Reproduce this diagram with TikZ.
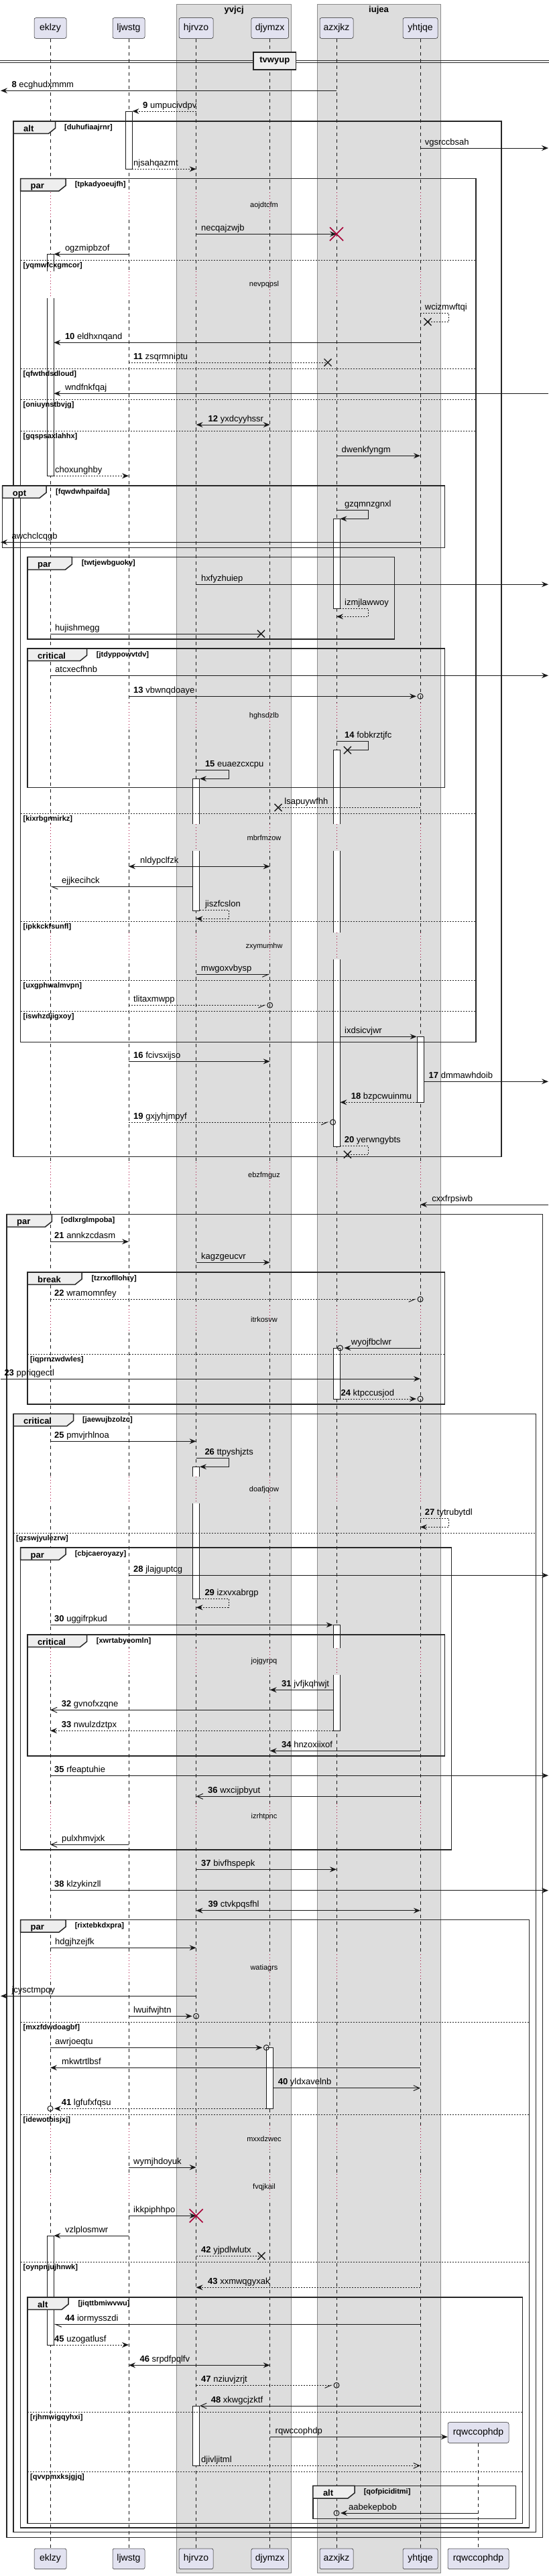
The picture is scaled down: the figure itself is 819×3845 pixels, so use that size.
\documentclass[tikz,border=0pt]{standalone}
\usepackage{fontspec}
\setmainfont{Liberation Sans}
\usetikzlibrary{arrows.meta,calc}
\definecolor{partfill}{HTML}{E2E2F0}
\definecolor{partline}{HTML}{181818}
\definecolor{lanefill}{HTML}{DDDDDD}
\definecolor{laneline}{HTML}{8C8C8C}
\definecolor{tabfill}{HTML}{EEEEEE}
\definecolor{delayred}{HTML}{A80036}
\newcommand\msgf{\fontsize{13}{15}\selectfont}
\newcommand\partf{\fontsize{14}{16}\selectfont}
\newcommand\condf{\fontsize{11}{13}\selectfont\bfseries}
\newcommand\tabf{\fontsize{13}{15}\selectfont\bfseries}
\newcommand\dlyf{\fontsize{11}{13}\selectfont}
\newcount\nodecnt
\tikzset{
  nm/.code={\global\advance\nodecnt by 1\relax\edef\tmpnm{\noexpand\pgfkeysalso{name=lb\the\nodecnt}}\tmpnm},
  part/.style={draw=partline, fill=partfill, rounded corners=2.5pt, line width=0.5pt, minimum height=30.6pt, inner sep=0pt, font=\partf},
  lane/.style={draw=laneline, fill=lanefill, line width=0.6pt},
  lanet/.style={font=\tabf, inner sep=0pt},
  life/.style={draw=partline, line width=0.5pt, dash pattern=on 5pt off 5pt},
  actbox/.style={draw=black!90, fill=white, line width=0.8pt, minimum width=10pt, inner sep=0pt},
  msg/.style={draw=black!90, line width=1pt},
  ret/.style={dash pattern=on 2pt off 2pt},
  fil/.style={-{Stealth[length=10pt,width=8pt,inset=3.5pt]}},
  opn/.style={-{Straight Barb[length=9pt,width=8pt]}},
  hlfL/.style={-{Straight Barb[length=9pt,width=8pt,left]}},
  hlfR/.style={-{Straight Barb[length=9pt,width=8pt,right]}},
  bi/.style={{Stealth[length=10pt,width=8pt,inset=3.5pt]}-{Stealth[length=10pt,width=8pt,inset=3.5pt]}},
  lbl/.style={nm, anchor=base west, inner sep=0pt, font=\msgf},
  frm/.style={draw=black!85, line width=1.5pt},
  tabst/.style={draw=black!85, line width=1.5pt, fill=tabfill},
  elsel/.style={draw=black!85, line width=0.8pt, dash pattern=on 2pt off 2pt},
  cond/.style={nm, anchor=base west, inner sep=0pt, font=\condf},
  tabl/.style={nm, anchor=base west, inner sep=0pt, font=\tabf},
  dly/.style={draw=delayred, line width=0.8pt, dash pattern=on 1pt off 3.5pt},
  dlyt/.style={nm, font=\dlyf, inner sep=0pt},
  xblk/.style={draw=black!90, line width=1.4pt},
  xred/.style={draw=delayred, line width=1.6pt},
  circ/.style={draw=black!90, line width=1pt},
  divbox/.style={draw=black!85, fill=tabfill, line width=1.5pt, minimum width=63.6pt, minimum height=26pt, inner sep=0pt, font=\tabf},
}
\newcommand\smsg[6]{%
  \draw[msg,#1] (#2|-0,#4) -- (#3|-0,#4);
  \node[lbl] at (#5,#4-5) {#6};}
\newcommand\smsgo[7]{%
  \draw[msg,#1] (#2|-0,#4) -- ($(#3|-0,#4)+(#7*6,0)$);
  \draw[circ] (#3|-0,#4) circle (4pt);
  \node[lbl] at (#5,#4-5) {#6};}
\newcommand\sself[8]{%
  \draw[msg,#1] (#2|-0,#4) -- (#3,#4) -- (#3,#5) -- (#6|-0,#5);
  \node[lbl] at (#7,#4-5) {#8};}
\newcommand\xblk[1]{\draw[xblk] ($(#1)+(-5.5,-5.5)$) -- ($(#1)+(5.5,5.5)$) ($(#1)+(-5.5,5.5)$) -- ($(#1)+(5.5,-5.5)$);}
\newcommand\xred[1]{\draw[xred] ($(#1)+(-10,-10)$) -- ($(#1)+(10,10)$) ($(#1)+(-10,10)$) -- ($(#1)+(10,-10)$);}
\newcommand\sframe[9]{%
  \draw[frm] (#1,#2) rectangle (#3,#4);
  \draw[tabst] (#1,#2) -- (#5,#2) -- (#5,#6-8) -- (#5-10,#6) -- (#1,#6) -- cycle;
  \node[tabl] at (#1+15,#2+15) {#7};
  \node[cond] at (#8,#2+12) {#9};}
\newcommand\selse[4]{%
  \draw[elsel] (#1,#3) -- (#2,#3);
  \node[cond] at (#1+4,#3+11.5) {#4};}
\newcommand\sdelay[2]{%
  \foreach \lnm/\lcl in {eklzy/white,ljwstg/white,hjrvzo/lanefill,djymzx/lanefill,azxjkz/lanefill,yhtjqe/lanefill}{%
    \fill[\lcl] ($(\lnm|-0,#1-20)+(-6.5,0)$) rectangle ($(\lnm|-0,#1+20)+(6.5,0)$);
    \draw[dly] (\lnm|-0,#1-20) -- (\lnm|-0,#1+20);}
  \node[dlyt] at (394,#1) {#2};}
\begin{document}
\begin{tikzpicture}[x=1pt,y=-1pt]
\useasboundingbox (0,0) rectangle (819,3845);
\fill[white] (0,0) rectangle (819,3845);
% lanes
\draw[lane] (263.7,6) rectangle (434.7,3840.7);
\draw[lane] (473,6) rectangle (657,3840.7);
\node[lanet] (tyvjcj) at (349.2,15.5) {yvjcj};
\node[lanet] (tiujea) at (565,15.5) {iujea};
% participants
\node[part,minimum width=48pt] (eklzy) at (75,42) {eklzy};
\node[part,minimum width=48pt] (ljwstg) at (192,42) {ljwstg};
\node[part,minimum width=51pt] (hjrvzo) at (292.6,42) {hjrvzo};
\node[part,minimum width=55.5pt] (djymzx) at (402.7,42) {djymzx};
\node[part,minimum width=50pt] (azxjkz) at (502,42) {azxjkz};
\node[part,minimum width=52pt] (yhtjqe) at (627,42) {yhtjqe};
\node[part,minimum width=91pt] (rqwccophdp) at (713.5,3631) {rqwccophdp};
\node[part,minimum width=48pt] (eklzyB) at (75,3819.3) {eklzy};
\node[part,minimum width=48pt] (ljwstgB) at (192,3819.3) {ljwstg};
\node[part,minimum width=51pt] (hjrvzoB) at (292.6,3819.3) {hjrvzo};
\node[part,minimum width=55.5pt] (djymzxB) at (402.7,3819.3) {djymzx};
\node[part,minimum width=50pt] (azxjkzB) at (502,3819.3) {azxjkz};
\node[part,minimum width=52pt] (yhtjqeB) at (627,3819.3) {yhtjqe};
\node[part,minimum width=91pt] (rqwccophdpB) at (713.5,3819.3) {rqwccophdp};
% lifelines
\draw[life] (eklzy) -- (eklzyB);
\draw[life] (ljwstg) -- (ljwstgB);
\draw[life] (hjrvzo) -- (hjrvzoB);
\draw[life] (djymzx) -- (djymzxB);
\draw[life] (azxjkz) -- (azxjkzB);
\draw[life] (yhtjqe) -- (yhtjqeB);
\draw[life] (rqwccophdp) -- (rqwccophdpB);
% edges and lost-message points
\coordinate (lft) at (1,0);
\coordinate (rgt) at (818,0);
\coordinate (xa) at (638,480.3);
\coordinate (xb) at (489,541);
\coordinate (xc) at (389.5,946);
\coordinate (xd) at (518.4,1119.7);
\coordinate (xe) at (415,1205.3);
\coordinate (xf) at (518.4,1723.3);
\coordinate (xg) at (390,3367.3);
% activations
\node[actbox,minimum height=86.3pt] (a1) at (ljwstg|-0,209.15) {};
\node[actbox,minimum height=331pt] (a2) at (eklzy|-0,544.8) {};
\node[actbox,minimum height=133.7pt] (a3) at (azxjkz|-0,841.15) {};
\node[actbox,minimum height=591.3pt] (a4) at (azxjkz|-0,1415.35) {};
\node[actbox,minimum height=197pt] (a5) at (hjrvzo|-0,1260.8) {};
\node[actbox,minimum height=98pt] (a6) at (yhtjqe|-0,1596.3) {};
\node[actbox,minimum height=75.6pt] (a7) at (azxjkz|-0,2050.5) {};
\node[actbox,minimum height=197.4pt] (a8) at (hjrvzo|-0,2288) {};
\node[actbox,minimum height=158pt] (a9) at (azxjkz|-0,2504.3) {};
\node[actbox,minimum height=91pt] (a10) at (djymzx|-0,3101.8) {};
\node[actbox,minimum height=163pt] (a11) at (eklzy|-0,3418.5) {};
\node[actbox,minimum height=89.3pt] (a12) at (hjrvzo|-0,3635.65) {};
% delays
\sdelay{307}{aojdtcfm}
\sdelay{425}{nevpqpsl}
\sdelay{1069}{hghsdzlb}
\sdelay{1250.3}{mbrfmzow}
\sdelay{1412.3}{zxymumhw}
\sdelay{1755}{ebzfmguz}
\sdelay{1969.3}{itrkosvw}
\sdelay{2224}{doafjqow}
\sdelay{2480}{jojgyrpq}
\sdelay{2711.7}{izrhtpnc}
\sdelay{2937.3}{watiagrs}
\sdelay{3192.3}{mxxdzwec}
\sdelay{3265}{fvqjkail}
% frames
\sframe{20}{181}{748}{1726.3}{82.6}{199.3}{alt}{96}{[duhufiaajrnr]}
\sframe{30.5}{266.7}{710}{1555.3}{98}{285}{par}{111.6}{[tpkadyoeujfh]}
\selse{30.5}{710}{388.3}{[yqmwfcxgmcor]}
\selse{30.5}{710}{550.3}{[qfwthdsdloud]}
\selse{30.5}{710}{596.3}{[oniuynstbvjg]}
\selse{30.5}{710}{643}{[gqspsaxlahhx]}
\selse{30.5}{710}{1214.3}{[kixrbgrmirkz]}
\selse{30.5}{710}{1375.3}{[ipkkckfsunfl]}
\selse{30.5}{710}{1463.3}{[uxgphwalmvpn]}
\selse{30.5}{710}{1509.3}{[iswhzdjigxoy]}
\sframe{3.7}{725}{663.7}{817.3}{69}{743.3}{opt}{83}{[fqwdwhpaifda]}
\sframe{41}{831.3}{588.4}{954}{107.4}{850.3}{par}{121.6}{[twtjewbguoky]}
\sframe{41}{968}{663.7}{1175.3}{129.5}{986.3}{critical}{143.7}{[jtdyppowvtdv]}
\sframe{10}{1812.7}{809.5}{3787.3}{77.4}{1831.3}{par}{91}{[odlxrglmpoba]}
\sframe{41}{1899}{663.7}{2096}{122}{1917.3}{break}{136.3}{[tzrxofllohry]}
\selse{41}{663.7}{2021}{[iqprnzwdwles]}
\sframe{20}{2110.3}{799.5}{3779.7}{109.5}{2128.7}{critical}{123}{[jaewujbzolzc]}
\selse{20}{799.5}{2288.3}{[gzswjyulezrw]}
\sframe{30.5}{2310}{673.7}{2761}{98}{2328.3}{par}{111.6}{[cbjcaeroyazy]}
\sframe{41}{2440}{663.7}{2621}{129.5}{2458.3}{critical}{143.7}{[xwrtabyeomln]}
\sframe{30.5}{2865.7}{789.5}{3773}{98}{2884}{par}{111.6}{[rixtebkdxpra]}
\selse{30.5}{789.5}{3018}{[mxzfdwdoagbf]}
\selse{30.5}{789.5}{3156.3}{[idewotbisjxj]}
\selse{30.5}{789.5}{3376.3}{[oynpnjujhnwk]}
\sframe{41}{3429}{779.5}{3766.7}{102}{3447.3}{alt}{116.3}{[jiqttbmiwvwu]}
\selse{41}{779.5}{3600.3}{[rjhmwigqyhxi]}
\selse{41}{779.5}{3689.3}{[qvvpmxksjgjq]}
\sframe{466.8}{3710.3}{769.5}{3759.3}{529}{3729}{alt}{542.6}{[qofpiciditmi]}
% divider
\draw[black!85, line width=1pt] (0,90) -- (819,90) (0,93) -- (819,93);
\node[divbox] (tvwyup) at (409.8,91) {tvwyup};
% messages
\smsg{fil}{azxjkz}{lft}{135.3}{17.4}{\textbf{8} ecghudxmmm}
\smsg{ret,fil}{hjrvzo}{a1.east}{166}{213}{\textbf{9} umpucivdpv}
\smsg{fil}{yhtjqe}{rgt}{221}{633.7}{vgsrccbsah}
\smsg{ret,fil}{a1.east}{hjrvzo}{252.3}{199}{njsahqazmt}
\smsg{fil}{hjrvzo}{azxjkz}{349.3}{300}{necqajzwjb}
\xred{azxjkz|-0,349.3}
\smsg{fil}{ljwstg}{a2.east}{379.3}{96.8}{ogzmipbzof}
\sself{ret}{yhtjqe}{669.5}{467.3}{480.3}{xa}{633.7}{wcizmwftqi}
\xblk{xa}
\smsg{fil}{yhtjqe}{a2.east}{511.3}{96.8}{\textbf{10} eldhxnqand}
\smsg{ret}{ljwstg}{xb}{541}{199}{\textbf{11} zsqrmniptu}
\xblk{xb}
\smsg{fil}{rgt}{a2.east}{587.3}{96.8}{wndfnkfqaj}
\smsg{bi}{hjrvzo}{djymzx}{634}{310.5}{\textbf{12} yxdcyyhssr}
\smsg{fil}{azxjkz}{yhtjqe}{680.3}{509.5}{dwenkfyngm}
\smsg{ret,fil}{a2.east}{ljwstg}{710.3}{82}{choxunghby}
\sself{fil}{azxjkz}{549.5}{761.3}{774.3}{a3.east}{514}{gzqmnzgnxl}
\smsg{fil}{yhtjqe}{lft}{809.3}{17.4}{awchclcqgb}
\smsg{fil}{hjrvzo}{rgt}{872.3}{300}{hxfyzhuiep}
\sself{ret,fil}{a3.east}{549.5}{908}{920.3}{azxjkz}{514}{izmjlawwoy}
\smsg{}{eklzy}{xc}{946}{82}{hujishmegg}
\xblk{xc}
\smsg{fil}{eklzy}{rgt}{1008.3}{82}{atcxecfhnb}
\smsgo{fil}{ljwstg}{yhtjqe}{1039.3}{199}{\textbf{13} vbwnqdoaye}{-1}
\sself{}{azxjkz}{549.5}{1106.3}{1119.7}{xd}{514}{\textbf{14} fobkrztjfc}
\xblk{xd}
\sself{fil}{hjrvzo}{341}{1149.3}{1162.3}{a5.east}{305.8}{\textbf{15} euaezcxcpu}
\smsg{ret}{yhtjqe}{xe}{1205.3}{424.2}{lsapuywfhh}
\xblk{xe}
\smsg{bi}{ljwstg}{djymzx}{1293.3}{209}{nldypclfzk}
\smsg{hlfL}{a5.west}{eklzy}{1323.3}{92}{ejjkecihck}
\sself{ret,fil}{a5.east}{341}{1358.3}{1371.3}{hjrvzo}{305.8}{jiszfcslon}
\smsg{hlfR}{hjrvzo}{djymzx}{1454.3}{300}{mwgoxvbysp}
\smsgo{ret,hlfR}{ljwstg}{djymzx}{1500.3}{199}{tlitaxmwpp}{-1}
\smsg{fil}{a4.east}{a6.west}{1547.3}{514}{ixdsicvjwr}
\smsg{fil}{ljwstg}{djymzx}{1584.3}{199}{\textbf{16} fcivsxijso}
\smsg{fil}{a6.east}{rgt}{1614.3}{639.5}{\textbf{17} dmmawhdoib}
\smsg{ret,fil}{a6.west}{a4.east}{1645.3}{523.7}{\textbf{18} bzpcwuinmu}
\smsgo{ret,hlfR}{ljwstg}{a4.west}{1675}{199}{\textbf{19} gxjyhjmpyf}{-1}
\sself{ret}{a4.east}{549.5}{1710.3}{1723.3}{xf}{513.7}{\textbf{20} yerwngybts}
\xblk{xf}
\smsg{fil}{rgt}{yhtjqe}{1798}{644.2}{cxxfrpsiwb}
\smsg{fil}{eklzy}{ljwstg}{1853.3}{81}{\textbf{21} annkzcdasm}
\smsg{fil}{hjrvzo}{djymzx}{1884.3}{300}{kagzgeucvr}
\smsgo{ret,hlfR}{eklzy}{yhtjqe}{1939.3}{81}{\textbf{22} wramomnfey}{-1}
\smsgo{fil}{yhtjqe}{a7.east}{2012}{523.7}{wyojfbclwr}{1}
\smsg{fil}{lft}{yhtjqe}{2058}{6.3}{\textbf{23} ppriqgectl}
\smsgo{ret,fil}{a7.east}{yhtjqe}{2088}{508.4}{\textbf{24} ktpccusjod}{-1}
\smsg{fil}{eklzy}{hjrvzo}{2151.3}{81}{\textbf{25} pmvjrhlnoa}
\sself{fil}{hjrvzo}{341}{2176.3}{2189.3}{a8.east}{305.3}{\textbf{26} ttpyshjzts}
\sself{ret,fil}{yhtjqe}{669.5}{2266.3}{2279.3}{yhtjqe}{633.7}{\textbf{27} tytrubytdl}
\smsg{fil}{ljwstg}{rgt}{2351.3}{199}{\textbf{28} jlajguptcg}
\sself{ret,fil}{a8.east}{341}{2386.3}{2399.3}{hjrvzo}{305.3}{\textbf{29} izxvxabrgp}
\smsg{fil}{eklzy}{a9.west}{2425.3}{81}{\textbf{30} uggifrpkud}
\smsg{fil}{a9.west}{djymzx}{2522.3}{420}{\textbf{31} jvfjkqhwjt}
\smsg{opn}{a9.west}{eklzy}{2552.3}{91.6}{\textbf{32} gvnofxzqne}
\smsg{ret,fil}{a9.west}{eklzy}{2583.3}{91.6}{\textbf{33} nwulzdztpx}
\smsg{fil}{yhtjqe}{djymzx}{2613.3}{420}{\textbf{34} hnzoxiixof}
\smsg{fil}{eklzy}{rgt}{2650.3}{81}{\textbf{35} rfeaptuhie}
\smsg{opn}{yhtjqe}{hjrvzo}{2681.3}{310}{\textbf{36} wxcijpbyut}
\smsg{opn}{ljwstg}{eklzy}{2753.3}{92}{pulxhmvjxk}
\smsg{fil}{hjrvzo}{azxjkz}{2790.3}{300}{\textbf{37} bivfhspepk}
\smsg{fil}{eklzy}{rgt}{2821.7}{81}{\textbf{38} klzykinzll}
\smsg{bi}{hjrvzo}{yhtjqe}{2851.7}{310.5}{\textbf{39} ctvkpqsfhl}
\smsg{fil}{eklzy}{hjrvzo}{2907.3}{82}{hdgjhzejfk}
\smsg{fil}{hjrvzo}{lft}{2979.3}{17.4}{jcysctmpqy}
\smsgo{fil}{ljwstg}{hjrvzo}{3009.3}{199}{lwuifwjhtn}{-1}
\smsgo{fil}{eklzy}{a10.west}{3056.3}{82}{awrjoeqtu}{-1}
\smsg{fil}{yhtjqe}{eklzy}{3086.3}{92}{mkwtrtlbsf}
\smsg{opn}{a10.east}{yhtjqe}{3116.7}{414.7}{\textbf{40} yldxavelnb}
\smsgo{ret,fil}{a10.west}{eklzy}{3147.3}{91.6}{\textbf{41} lgfufxfqsu}{1}
\smsg{fil}{ljwstg}{hjrvzo}{3235}{199}{wymjhdoyuk}
\smsg{fil}{ljwstg}{hjrvzo}{3307.3}{199}{ikkpiphhpo}
\xred{hjrvzo|-0,3307.3}
\smsg{fil}{ljwstg}{a11.east}{3337}{96.8}{vzlplosmwr}
\smsg{ret}{hjrvzo}{xg}{3367.3}{300}{\textbf{42} yjpdlwlutx}
\xblk{xg}
\smsg{ret,fil}{yhtjqe}{hjrvzo}{3414.3}{310}{\textbf{43} xxmwqgyxak}
\smsg{hlfL}{yhtjqe}{a11.east}{3469.3}{96.8}{\textbf{44} iormysszdi}
\smsg{ret,fil}{a11.east}{ljwstg}{3500}{81}{\textbf{45} uzogatlusf}
\smsg{bi}{ljwstg}{djymzx}{3530.3}{208.4}{\textbf{46} srpdfpqlfv}
\smsgo{ret,hlfR}{hjrvzo}{azxjkz}{3560.3}{300}{\textbf{47} nziuvjzrjt}{-1}
\smsg{opn}{yhtjqe}{a12.east}{3591}{314.7}{\textbf{48} xkwgcjzktf}
\smsg{fil}{djymzx}{rqwccophdp.west}{3637.3}{410.5}{rqwccophdp}
\smsg{ret,opn}{a12.east}{yhtjqe}{3680.3}{300}{djivljitml}
\smsgo{fil}{rqwccophdp}{azxjkz}{3751}{520}{aabekepbob}{1}
\end{tikzpicture}
\end{document}
